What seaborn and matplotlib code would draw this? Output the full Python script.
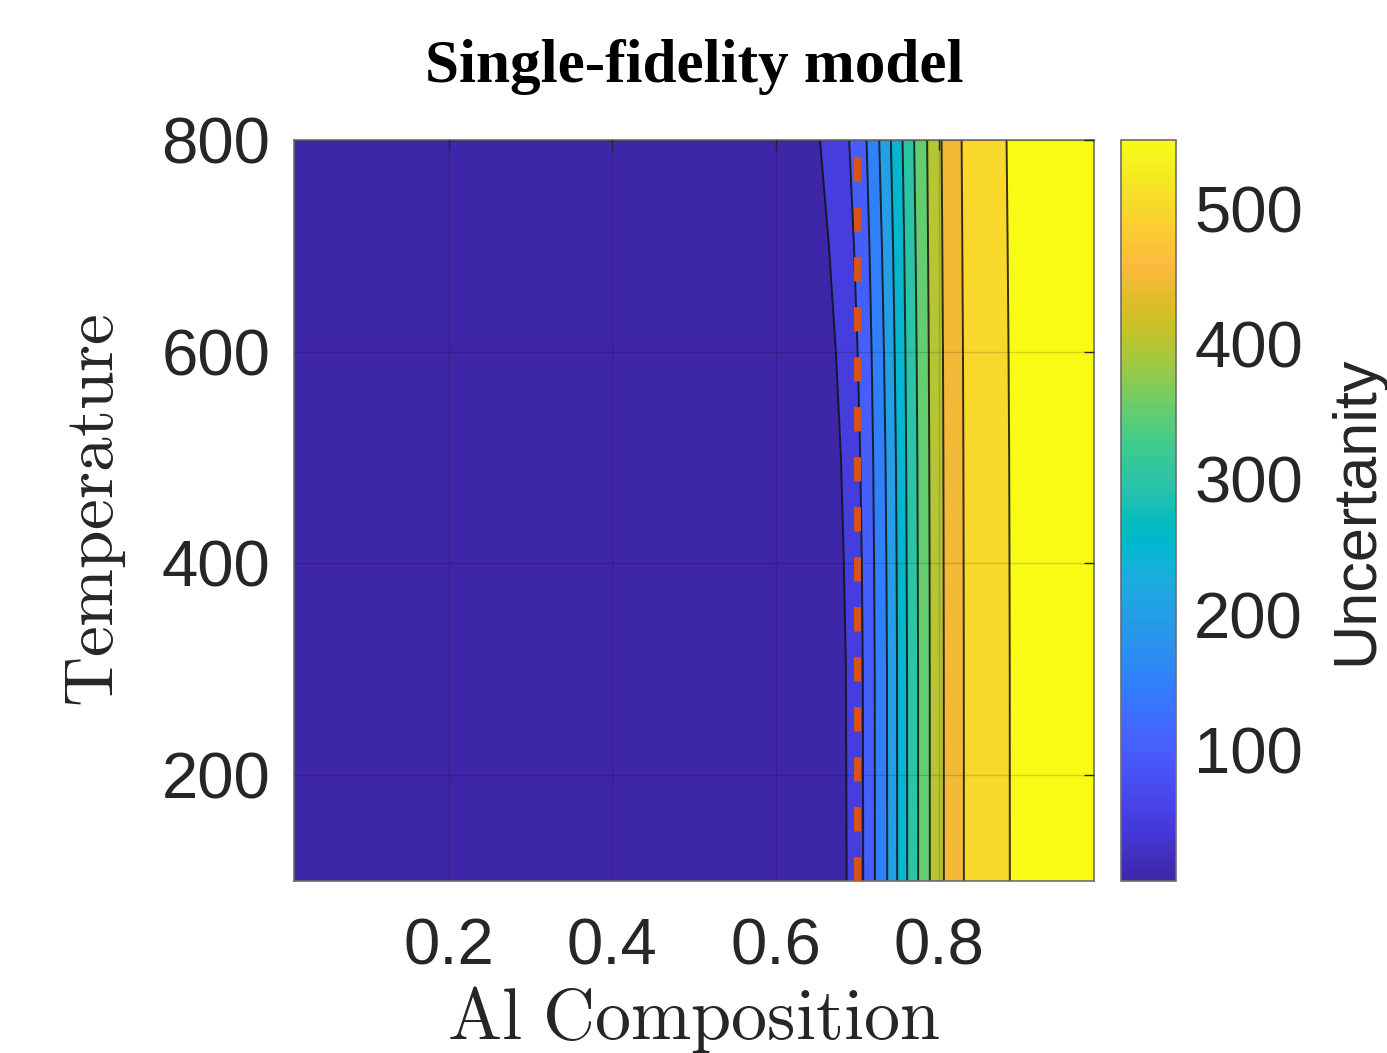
import numpy as np
import matplotlib
matplotlib.use("Agg")
import matplotlib.pyplot as plt
import seaborn as sns
from matplotlib.colors import LinearSegmentedColormap, Normalize
from matplotlib.cm import ScalarMappable

# ---------------------------------------------------------------------------
# Data: uncertainty surface over (Al composition, temperature)
# ---------------------------------------------------------------------------
# Temperature rows at which the contour crossings are given
temperature = [100, 300, 400, 500, 600, 700, 800]

# Al composition where the uncertainty reaches each contour level (one value per row)
comp_u050 = [0.6870, 0.6861, 0.6836, 0.6800, 0.6738, 0.6653, 0.6543]
comp_u100 = [0.7073, 0.7068, 0.7056, 0.7037, 0.7004, 0.6960, 0.6901]
comp_u150 = [0.7216, 0.7214, 0.7206, 0.7195, 0.7176, 0.7149, 0.7114]
comp_u200 = [0.7367, 0.7364, 0.7357, 0.7346, 0.7327, 0.7302, 0.7269]
comp_u250 = [0.7489, 0.7487, 0.7482, 0.7473, 0.7458, 0.7438, 0.7412]
comp_u300 = [0.7612, 0.7610, 0.7605, 0.7599, 0.7590, 0.7575, 0.7555]
comp_u350 = [0.7746, 0.7745, 0.7741, 0.7736, 0.7727, 0.7714, 0.7697]
comp_u400 = [0.7889, 0.7888, 0.7886, 0.7882, 0.7876, 0.7867, 0.7856]
comp_u450 = [0.8061, 0.8060, 0.8058, 0.8055, 0.8050, 0.8042, 0.8033]
comp_u500 = [0.8306, 0.8305, 0.8303, 0.8300, 0.8295, 0.8287, 0.8278]
comp_u550 = [0.8869, 0.8868, 0.8865, 0.8861, 0.8853, 0.8842, 0.8829]

contour_levels = [50, 100, 150, 200, 250, 300, 350, 400, 450, 500, 550]

# Composition limits of the domain and the uncertainty found there
comp_edges = [0.01, 0.99]
uncert_edges = [3, 551]

# Composition of the phase threshold marked by the dashed line
threshold_comp = 0.70
temp_range = [100, 800]

x_ticks = [0.2, 0.4, 0.6, 0.8]
y_ticks = [200, 400, 600, 800]
cbar_ticks = [100, 200, 300, 400, 500]

# ---------------------------------------------------------------------------
# Parula colormap
# ---------------------------------------------------------------------------
parula_rgb = [
    [0.2422, 0.1504, 0.6603], [0.2504, 0.1650, 0.7076], [0.2578, 0.1818, 0.7511],
    [0.2647, 0.1978, 0.7952], [0.2706, 0.2147, 0.8364], [0.2751, 0.2342, 0.8710],
    [0.2783, 0.2559, 0.8991], [0.2803, 0.2782, 0.9221], [0.2813, 0.3006, 0.9414],
    [0.2810, 0.3228, 0.9579], [0.2795, 0.3447, 0.9717], [0.2760, 0.3667, 0.9829],
    [0.2699, 0.3892, 0.9906], [0.2602, 0.4123, 0.9952], [0.2440, 0.4358, 0.9988],
    [0.2206, 0.4603, 0.9973], [0.1963, 0.4847, 0.9892], [0.1834, 0.5074, 0.9798],
    [0.1786, 0.5289, 0.9682], [0.1764, 0.5499, 0.9520], [0.1687, 0.5703, 0.9359],
    [0.1540, 0.5902, 0.9218], [0.1460, 0.6091, 0.9079], [0.1380, 0.6276, 0.8973],
    [0.1248, 0.6459, 0.8883], [0.1113, 0.6635, 0.8763], [0.0952, 0.6798, 0.8598],
    [0.0689, 0.6948, 0.8394], [0.0297, 0.7082, 0.8163], [0.0036, 0.7203, 0.7917],
    [0.0067, 0.7312, 0.7660], [0.0433, 0.7411, 0.7394], [0.0964, 0.7500, 0.7120],
    [0.1408, 0.7584, 0.6842], [0.1717, 0.7670, 0.6554], [0.1938, 0.7758, 0.6251],
    [0.2161, 0.7843, 0.5923], [0.2470, 0.7918, 0.5567], [0.2906, 0.7973, 0.5188],
    [0.3406, 0.8008, 0.4789], [0.3909, 0.8029, 0.4354], [0.4456, 0.8024, 0.3909],
    [0.5044, 0.7993, 0.3480], [0.5616, 0.7942, 0.3045], [0.6174, 0.7876, 0.2612],
    [0.6720, 0.7793, 0.2227], [0.7242, 0.7698, 0.1910], [0.7738, 0.7598, 0.1646],
    [0.8203, 0.7498, 0.1535], [0.8634, 0.7406, 0.1596], [0.9035, 0.7330, 0.1774],
    [0.9393, 0.7288, 0.2100], [0.9728, 0.7298, 0.2394], [0.9956, 0.7434, 0.2371],
    [0.9970, 0.7659, 0.2199], [0.9952, 0.7893, 0.2028], [0.9892, 0.8136, 0.1885],
    [0.9786, 0.8386, 0.1766], [0.9676, 0.8639, 0.1643], [0.9610, 0.8890, 0.1537],
    [0.9597, 0.9135, 0.1423], [0.9628, 0.9373, 0.1265], [0.9691, 0.9606, 0.1064],
    [0.9769, 0.9839, 0.0805],
]
parula = LinearSegmentedColormap.from_list("parula", parula_rgb, N=256)

# ---------------------------------------------------------------------------
# Style
# ---------------------------------------------------------------------------
sns.set_theme(style="white")
plt.rcParams["font.family"] = ["Liberation Sans", "DejaVu Sans"]
plt.rcParams["mathtext.fontset"] = "cm"
text_color = "#262626"

# ---------------------------------------------------------------------------
# Curvilinear grid: each row holds the domain edges and the level crossings
# ---------------------------------------------------------------------------
crossings = np.array([comp_u050, comp_u100, comp_u150, comp_u200, comp_u250,
                      comp_u300, comp_u350, comp_u400, comp_u450, comp_u500,
                      comp_u550]).T
n_rows = len(temperature)
X = np.column_stack([np.full(n_rows, comp_edges[0]), crossings,
                     np.full(n_rows, comp_edges[1])])
row_values = [uncert_edges[0]] + contour_levels + [uncert_edges[1]]
Z = np.tile(np.array(row_values, dtype=float), (n_rows, 1))
Y = np.repeat(np.array(temperature, dtype=float)[:, None], X.shape[1], axis=1)

norm = Normalize(vmin=uncert_edges[0], vmax=uncert_edges[1])
fill_levels = [uncert_edges[0]] + contour_levels + [uncert_edges[1]]
# each band takes the colour of its lower bound
band_colors = [parula(norm(v)) for v in fill_levels[:-1]]

W, H = 1387, 1053
fig = plt.figure(figsize=(W / 100, H / 100), dpi=100)
ax = fig.add_axes([294 / W, 1 - 881 / H, 800 / W, 741 / H])

ax.contourf(X, Y, Z, levels=fill_levels, colors=band_colors, antialiased=False)
ax.contour(X, Y, Z, levels=contour_levels, colors="#111111",
           linewidths=1.4, alpha=0.85)

sns.lineplot(x=[threshold_comp, threshold_comp], y=temp_range,
             estimator=None, sort=False, color="#D95319", lw=5,
             linestyle=(0, (3.5, 3.7)), ax=ax, zorder=4)

ax.set_xlim(comp_edges)
ax.set_ylim(temp_range)
ax.set_xticks(x_ticks)
ax.set_xticklabels([f"{v:.1f}" for v in x_ticks])
ax.set_yticks(y_ticks)
ax.set_yticklabels([str(v) for v in y_ticks])

ax.set_axisbelow(False)
ax.grid(True, color="black", alpha=0.15, lw=1)
ax.tick_params(axis="both", direction="in", length=7, width=1,
               top=True, right=True, color=text_color,
               labelcolor=text_color, labelsize=47)
ax.tick_params(axis="x", pad=26)
ax.tick_params(axis="y", pad=17)
for side in ax.spines.values():
    side.set_color("#6e6e6e")
    side.set_linewidth(1.2)

ax.set_xlabel(r"$\mathrm{Al\ Composition}$", fontsize=52, color=text_color,
              labelpad=5)
ax.set_ylabel(r"$\mathrm{Temperature}$", fontsize=50, color=text_color,
              labelpad=24)
ax.set_title("Single-fidelity model", fontsize=44, fontweight="bold",
             family=["Liberation Serif", "DejaVu Serif"], color="black",
             pad=42)

# Colorbar
cax = fig.add_axes([1121 / W, 1 - 881 / H, 55 / W, 741 / H])
sm = ScalarMappable(norm=norm, cmap=parula)
cb = fig.colorbar(sm, cax=cax, ticks=cbar_ticks)
cb.outline.set_edgecolor("#6e6e6e")
cb.outline.set_linewidth(1.2)
cax.tick_params(direction="in", length=7, width=1, color=text_color,
                labelcolor=text_color, labelsize=47, pad=13)
cb.set_label("Uncertanity", fontsize=44, color=text_color, labelpad=18)

fig.savefig("out.png", dpi=100)
